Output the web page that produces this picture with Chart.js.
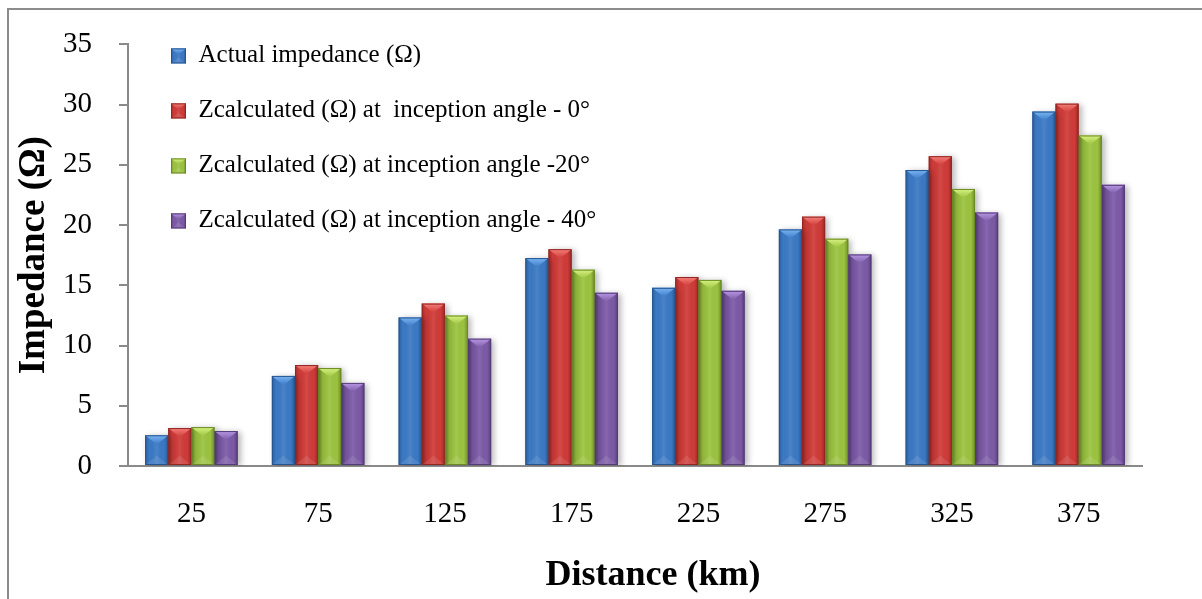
<!DOCTYPE html>
<html>
<head>
<meta charset="utf-8">
<script src="https://cdn.jsdelivr.net/npm/chart.js@4.4.1/dist/chart.umd.min.js"></script>
<style>
  html, body { margin: 0; padding: 0; background: #ffffff; }
  #wrap { width: 1202px; height: 599px; position: relative; }
</style>
</head>
<body>
<div id="wrap"><canvas id="chart" width="1202" height="599"></canvas></div>
<script>
// Fault distance along the line (km)
const distances = ['25', '75', '125', '175', '225', '275', '325', '375'];

// Impedance values (Ω)
const actualImpedance = [2.55, 7.48, 12.33, 17.26, 14.79, 19.64, 24.57, 29.42];
const zAngle0  = [3.15, 8.38, 13.48, 18.00, 15.69, 20.70, 25.72, 30.08];
const zAngle20 = [3.23, 8.13, 12.49, 16.30, 15.45, 18.87, 23.00, 27.44];
const zAngle40 = [2.90, 6.90, 10.57, 14.38, 14.54, 17.56, 21.04, 23.34];

const seriesLabels = [
  'Actual impedance (Ω)',
  'Zcalculated (Ω) at  inception angle - 0°',
  'Zcalculated (Ω) at inception angle -20°',
  'Zcalculated (Ω) at inception angle - 40°'
];

const yTicks = [0, 5, 10, 15, 20, 25, 30, 35];

// fill, top-bevel highlight, outline
const palette = [
  { fill: '#3b79c4', light: '#7ab6f4', edge: '#25558f' },
  { fill: '#cf3b38', light: '#f58079', edge: '#932523' },
  { fill: '#9bc33f', light: '#d8f282', edge: '#6a8a24' },
  { fill: '#7c5aa7', light: '#b898e4', edge: '#553b78' }
];

const SERIF = '"Liberation Serif", "Times New Roman", serif';
const AXIS_GREY = '#8a8a8a';
const LEGEND_FONT = 25, LEGEND_BOX = 15, LEGEND_PAD = 30;

// Thin grey frame around the chart (left and top edges)
const framePlugin = {
  id: 'frame',
  beforeDraw(chart) {
    const ctx = chart.ctx;
    ctx.save();
    ctx.fillStyle = '#ffffff';
    ctx.fillRect(0, 0, chart.width, chart.height);
    ctx.strokeStyle = '#8c8c8c';
    ctx.lineWidth = 2;
    ctx.beginPath();
    ctx.moveTo(8, chart.height);
    ctx.lineTo(8, 9);
    ctx.lineTo(chart.width, 9);
    ctx.stroke();
    ctx.restore();
  }
};

// Place the legend in the upper-left corner of the plot area
const legendPlacePlugin = {
  id: 'legendPlace',
  afterLayout(chart) {
    const lg = chart.legend;
    if (!lg) return;
    lg.left = chart.chartArea.left + 13;
    lg.top = chart.chartArea.top - 31;
  }
};

function bevel(ctx, left, top, right, bottom, colors, depthMax) {
  const w = right - left;
  const h = bottom - top;
  if (w <= 0 || h <= 0) return;
  const depth = Math.min(depthMax, h / 2);
  const cx = (left + right) / 2;

  // side shading: darker edges, brighter centre
  const g = ctx.createLinearGradient(left, 0, right, 0);
  g.addColorStop(0, 'rgba(0,0,0,0.22)');
  g.addColorStop(0.18, 'rgba(0,0,0,0.0)');
  g.addColorStop(0.5, 'rgba(255,255,255,0.08)');
  g.addColorStop(0.82, 'rgba(0,0,0,0.0)');
  g.addColorStop(1, 'rgba(0,0,0,0.28)');
  ctx.fillStyle = g;
  ctx.fillRect(left, top, w, h);

  // top bevel
  const tg = ctx.createLinearGradient(0, top, 0, top + depth);
  tg.addColorStop(0, colors.light);
  tg.addColorStop(1, colors.fill);
  ctx.fillStyle = tg;
  ctx.beginPath();
  ctx.moveTo(left, top);
  ctx.lineTo(right, top);
  ctx.lineTo(cx, top + depth);
  ctx.closePath();
  ctx.fill();

  // faint bottom bevel
  ctx.fillStyle = 'rgba(255,255,255,0.10)';
  ctx.beginPath();
  ctx.moveTo(left, bottom);
  ctx.lineTo(right, bottom);
  ctx.lineTo(cx, bottom - depth);
  ctx.closePath();
  ctx.fill();

  // outline
  ctx.strokeStyle = colors.edge;
  ctx.lineWidth = 1;
  ctx.strokeRect(left + 0.5, top + 0.5, w - 1, h - 1);
}

// Shadow under the bars and a bevelled look on each bar
const bevelPlugin = {
  id: 'bevel',
  beforeDatasetsDraw(chart) {
    const ctx = chart.ctx;
    ctx.save();
    ctx.shadowColor = 'rgba(0,0,0,0.28)';
    ctx.shadowBlur = 6;
    ctx.shadowOffsetX = 3;
    ctx.shadowOffsetY = 1;
  },
  afterDatasetsDraw(chart) {
    const ctx = chart.ctx;
    ctx.restore();
    ctx.save();
    chart.data.datasets.forEach((ds, di) => {
      const meta = chart.getDatasetMeta(di);
      meta.data.forEach(bar => {
        const p = bar.getProps(['x', 'y', 'base', 'width'], true);
        bevel(ctx, p.x - p.width / 2, Math.min(p.y, p.base), p.x + p.width / 2,
              Math.max(p.y, p.base), palette[di], p.width * 0.4);
      });
    });
    ctx.restore();
  },
  afterDraw(chart) {
    const lg = chart.legend;
    if (!lg || !lg.legendItems) return;
    const ctx = chart.ctx;
    ctx.save();
    const itemH = Math.max(LEGEND_FONT, LEGEND_BOX);
    lg.legendItems.forEach((it, i) => {
      const x = lg.left + LEGEND_PAD;
      const y = lg.top + LEGEND_PAD + i * (itemH + LEGEND_PAD) + Math.max((LEGEND_FONT - LEGEND_BOX) / 2, 0);
      bevel(ctx, x, y, x + LEGEND_BOX, y + LEGEND_BOX, palette[i], 6);
    });
    ctx.restore();
  }
};

const seriesValues = [actualImpedance, zAngle0, zAngle20, zAngle40];

new Chart(document.getElementById('chart'), {
  type: 'bar',
  data: {
    labels: distances,
    datasets: seriesValues.map((vals, i) => ({
      label: seriesLabels[i],
      data: vals,
      backgroundColor: palette[i].fill,
      borderWidth: 0,
      categoryPercentage: 0.73,
      barPercentage: 1.0
    }))
  },
  options: {
    responsive: false,
    animation: false,
    devicePixelRatio: 1,
    layout: { padding: { top: 40, right: 60, left: 0, bottom: 0 } },
    plugins: {
      legend: {
        position: 'chartArea',
        align: 'start',
        labels: {
          boxWidth: LEGEND_BOX,
          boxHeight: LEGEND_BOX,
          padding: LEGEND_PAD,
          color: '#000000',
          font: { family: SERIF, size: LEGEND_FONT }
        }
      },
      tooltip: { enabled: false }
    },
    scales: {
      x: {
        ticks: { color: '#000000', font: { family: SERIF, size: 29 }, padding: 31 },
        grid: { display: false, drawTicks: false },
        border: { display: true, color: AXIS_GREY, width: 2 },
        title: {
          display: true, text: '\u2002\u2002Distance (km)', color: '#000000',
          font: { family: SERIF, size: 36, weight: 'bold' },
          padding: { top: 0, bottom: 2 }
        },
        afterFit(scale) { scale.height = 133; }
      },
      y: {
        min: 0, max: 35,
        afterBuildTicks(scale) { scale.ticks = yTicks.map(v => ({ value: v })); },
        ticks: { color: '#000000', font: { family: SERIF, size: 29 }, padding: 27 },
        grid: { drawOnChartArea: false, drawTicks: true, tickLength: 9, color: AXIS_GREY, lineWidth: 2 },
        border: { display: true, color: AXIS_GREY, width: 2 },
        title: {
          display: true, text: 'Impedance (Ω)', color: '#000000',
          font: { family: SERIF, size: 37, weight: 'bold' },
          padding: { top: 12, bottom: 0 }
        },
        afterFit(scale) { scale.width = 128; }
      }
    }
  },
  plugins: [framePlugin, legendPlacePlugin, bevelPlugin]
});
</script>
</body>
</html>
